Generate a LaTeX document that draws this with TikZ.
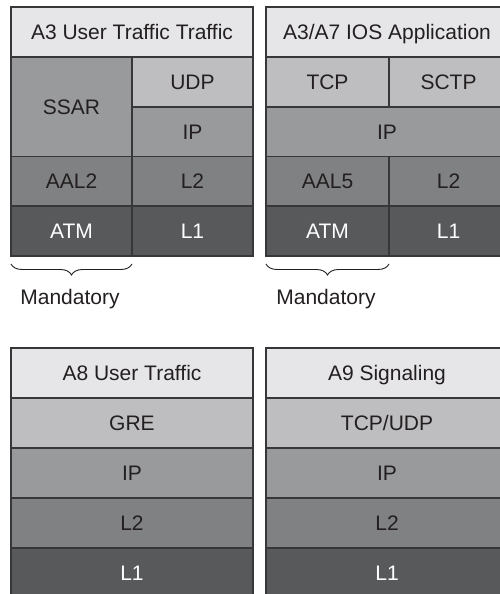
\documentclass[tikz,border=0pt]{standalone}
\usepackage{fontspec}
\setmainfont{Liberation Sans}
\usetikzlibrary{decorations.pathreplacing}
\definecolor{hdr}{RGB}{230,230,232}
\definecolor{rowb}{RGB}{190,190,192}
\definecolor{rowc}{RGB}{153,154,156}
\definecolor{rowd}{RGB}{128,129,131}
\definecolor{rowe}{RGB}{88,89,91}
\definecolor{edge}{RGB}{55,55,57}
\definecolor{ink}{RGB}{35,31,32}
\tikzset{
  cell/.style={draw=edge, line width=1.2pt, inner sep=0pt, outer sep=0pt,
    text=ink, font=\fontsize{21}{25}\selectfont, text height=14.5pt, text depth=0pt},
  hdrcell/.style={cell, fill=hdr},
  bcell/.style={cell, fill=rowb},
  ccell/.style={cell, fill=rowc},
  dcell/.style={cell, fill=rowd},
  ecell/.style={cell, fill=rowe, text=white},
  wide/.style={minimum width=242pt, minimum height=50pt},
  half/.style={minimum width=121pt, minimum height=50pt},
  halfr/.style={minimum width=123pt, minimum height=50pt},
  halfs/.style={minimum width=119pt, minimum height=50pt},
  bracepath/.style={decorate, decoration={brace, mirror, amplitude=11pt}, draw=ink, line width=0.9pt},
  lbl/.style={text=ink, font=\fontsize{21}{25}\selectfont, inner sep=0pt, text height=14.5pt, text depth=0pt}
}
\begin{document}
\begin{tikzpicture}[x=1pt, y=-1pt]
\clip (0,0) rectangle (500,594);
\fill[white] (0,0) rectangle (500,594);
% top-left block: x 11..132..253
\node[hdrcell, wide] (tlh) at (132,32) {A3 User Traffic Traffic};
\node[ccell, half, minimum height=100pt] (ssar) at (71.5,107) {SSAR};
\node[bcell, half] (udp) at (192.5,82) {UDP};
\node[ccell, half] (tlip) at (192.5,132) {IP};
\node[dcell, half] (aal2) at (71.5,181.5) {AAL2};
\node[dcell, half] (tll2) at (192.5,181.5) {L2};
\node[ecell, half] (tlatm) at (71.5,231) {ATM};
\node[ecell, half] (tll1) at (192.5,231) {L1};
% top-right block: x 266..389..508
\node[hdrcell, wide] (trh) at (387,32) {A3/A7 IOS Application};
\node[bcell, halfr] (tcp) at (327.5,82) {TCP};
\node[bcell, halfs] (sctp) at (448.5,82) {SCTP};
\node[ccell, wide] (trip) at (387,132) {IP};
\node[dcell, halfr] (aal5) at (327.5,181.5) {AAL5};
\node[dcell, halfs] (trl2) at (448.5,181.5) {L2};
\node[ecell, halfr] (tratm) at (327.5,231) {ATM};
\node[ecell, halfs] (trl1) at (448.5,231) {L1};
% braces
\coordinate (b1a) at (11,264);
\coordinate (b1b) at (132,264);
\coordinate (b2a) at (266,264);
\coordinate (b2b) at (389,264);
\draw[bracepath] (b1a) -- (b1b);
\draw[bracepath] (b2a) -- (b2b);
\node[lbl] (m1) at (70,297) {Mandatory};
\node[lbl] (m2) at (326,297) {Mandatory};
% bottom-left block
\node[hdrcell, wide] (blh) at (132,373) {A8 User Traffic};
\node[bcell, wide] (gre) at (132,423) {GRE};
\node[ccell, wide] (blip) at (132,473) {IP};
\node[dcell, wide] (bll2) at (132,523) {L2};
\node[ecell, wide] (bll1) at (132,573) {L1};
% bottom-right block
\node[hdrcell, wide] (brh) at (387,373) {A9 Signaling};
\node[bcell, wide] (tcpudp) at (387,423) {TCP/UDP};
\node[ccell, wide] (brip) at (387,473) {IP};
\node[dcell, wide] (brl2) at (387,523) {L2};
\node[ecell, wide] (brl1) at (387,573) {L1};
\end{tikzpicture}
\end{document}
